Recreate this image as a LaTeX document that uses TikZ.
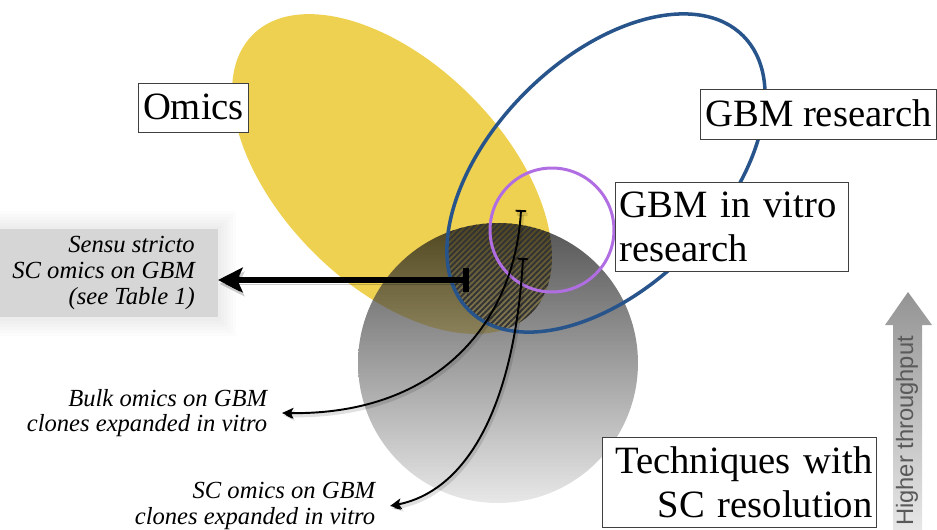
\documentclass[tikz,border=0pt]{standalone}
\usepackage{fontspec}
\setmainfont{Liberation Serif}
\newfontfamily\thrufont{Liberation Sans}
\usetikzlibrary{arrows.meta,calc,positioning,patterns.meta}
\definecolor{omicsyellow}{RGB}{239,209,81}
\definecolor{gbmblue}{RGB}{40,84,140}
\definecolor{vitropurple}{RGB}{176,110,226}
\tikzset{
    semithick,
    setbox/.style ={draw=black!75, fill=white, line width=0.5pt,
        font=\fontsize{22}{25}\selectfont, inner xsep=2.8pt, inner ysep=2.8pt,
        text height=18pt, text depth=4.5pt},
    setboxtwo/.style ={draw=black!75, fill=white, line width=0.5pt,
        font=\fontsize{22}{25}\selectfont, inner xsep=2.3pt, inner ysep=5.5pt},
    sensu/.style = {fill=black!9, font=\fontsize{14}{14.7}\selectfont\itshape,
        align=right, inner xsep=13pt, inner ysep=4.3pt},
    study/.style = {font=\fontsize{14}{14.7}\selectfont\itshape, align=right,
        inner sep=0pt, outer xsep=8.5pt},
    shadowed/.style={preaction={draw=black, draw opacity=0.2,
        transform canvas={xshift=1pt,yshift=-2.2pt}}},
    softshadow/.style={preaction={draw=black, draw opacity=0.12, line width=2pt,
        transform canvas={xshift=0.8pt,yshift=-1.4pt}}},
    fat/.style = {line width=3.4pt, shadowed,
        arrows={Bar[width=13.5pt]-Stealth[length=14pt,width=14pt,inset=3pt]}},
    link/.style = {line width=1.1pt, softshadow,
        arrows={Bar[width=6pt]-Stealth[length=6.5pt,width=6pt,inset=1.5pt]}}
}

\begin{document}
\begin{tikzpicture}[x=0.02cm, y=-0.02cm]
    \useasboundingbox (0,0) rectangle (937,529);

    % Omics
    \fill[omicsyellow, rotate around={-45:(392,174)}] (392,174)
        ellipse [x radius=3.94cm, y radius=2.22cm];

    % Techniques with SC resolution
    \shade[top color=black!95, bottom color=black!13, opacity=0.7]
        (498,363) circle [radius=2.8cm];

    % overlap of the three sets
    \begin{scope}
        \clip[rotate around={-45:(392,174)}] (392,174)
            ellipse [x radius=3.94cm, y radius=2.22cm];
        \clip (498,363) circle [radius=2.8cm];
        \clip[rotate around={45:(606,173)}] (606,173)
            ellipse [x radius=3.88cm, y radius=2.28cm];
        \fill[pattern={Lines[angle=45,distance=2.3pt,line width=1.1pt]},
            pattern color=black!80] (400,180) rectangle (620,400);
    \end{scope}

    % GBM research
    \draw[gbmblue, line width=2pt, rotate around={45:(606,173)}] (606,173)
        ellipse [x radius=3.88cm, y radius=2.28cm];

    % GBM in vitro research
    \draw[vitropurple, line width=1.7pt] (552,230) circle [radius=1.24cm];

    % throughput arrow
    \shade[top color=black!42, bottom color=black!8]
        (893,540) -- (893,325) -- (885,325) -- (908,292) -- (932,325)
        -- (922,325) -- (922,540) -- cycle;
    \node[rotate=90, font=\thrufont\fontsize{13.5}{16}\selectfont, text=black!65]
        (thru) at (907,431) {Higher throughput};

    % sensu stricto box with soft edge
    \node[sensu] (sensu) at (218,273) [anchor=east]
        {Sensu stricto\\SC omics on GBM\\(see Table 1)};
    \foreach \k in {3,6,...,18}
        \fill[black, opacity=0.012] ([shift={(-\k,-\k)}]sensu.north west)
            rectangle ([shift={(\k,\k)}]sensu.south east);

    \node[study] (bulk) at (282,413) [anchor=east]
        {Bulk omics on GBM\\clones expanded in vitro};
    \node[study] (scvitro) at (390,506) [anchor=east]
        {SC omics on GBM\\clones expanded in vitro};

    % boxes
    \node[setbox] (omics) at (193.5,108) {Omics};
    \node[setbox, anchor=west] (gbm) at (700,114.5) {GBM research};
    \node[setboxtwo, anchor=north west, text width=4.5cm, align=left]
        (vitro) at (615,182) {GBM in vitro\\research};
    \node[setboxtwo, anchor=north west, text width=5.32cm, align=right]
        (sctech) at (602,437) {Techniques with\\SC resolution};

    % connectors
    \coordinate (ssbar) at (469,280);
    \coordinate (bulkbar) at (521,210);
    \coordinate (scbar) at (523,258);

    \draw[fat] (ssbar) -- (ssbar -| sensu.east);
    \draw[link] (bulkbar) .. controls (515,320) and (440,415) .. (bulk.east);
    \draw[link] (scbar) .. controls (515,400) and (470,490) .. (scvitro.east);

\end{tikzpicture}
\end{document}
